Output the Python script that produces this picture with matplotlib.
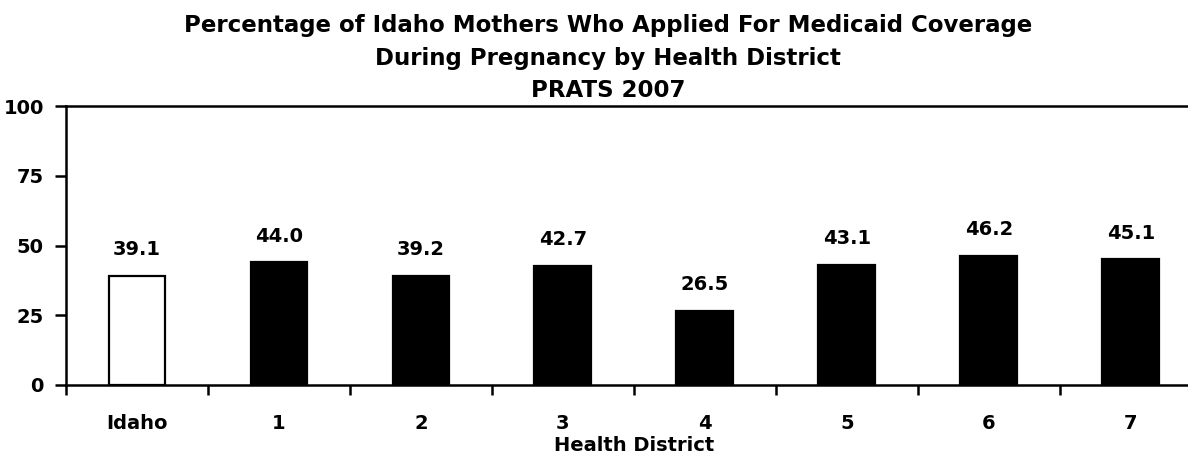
import matplotlib
matplotlib.use("Agg")
import matplotlib.pyplot as plt

# --- data ---
categories = ["Idaho", "1", "2", "3", "4", "5", "6", "7"]
percentages = [39.1, 44.0, 39.2, 42.7, 26.5, 43.1, 46.2, 45.1]
y_ticks = [0, 25, 50, 75, 100]

plt.rcParams["font.family"] = ["DejaVu Sans"]
W = "bold"
FS = 14

fig = plt.figure(figsize=(11.88, 4.58), dpi=100)
# axes runs a little past the right edge, like the original
ax = fig.add_axes([66 / 1188, 1 - 385 / 458, (1201.7 - 66) / 1188, (385 - 106) / 458])

x = list(range(len(categories)))
colors = ["white"] + ["black"] * (len(categories) - 1)
ax.bar(x, percentages, width=0.4, color=colors, edgecolor="black", linewidth=1.6)

for xi, v in zip(x, percentages):
    ax.annotate(f"{v:.1f}", (xi, v), xytext=(0, 12), textcoords="offset points",
                ha="center", va="bottom", fontsize=FS, fontweight=W)

ax.set_xlim(-0.5, len(categories) - 0.5)
ax.set_ylim(0, 100)
ax.set_yticks(y_ticks)
ax.set_yticklabels([str(t) for t in y_ticks], fontsize=FS, fontweight=W)

# category labels in the middle, ticks on the boundaries
ax.set_xticks(x)
ax.set_xticklabels(categories, fontsize=FS, fontweight=W)
ax.tick_params(axis="x", which="major", length=0, pad=21)
ax.set_xticks([i - 0.5 for i in range(len(categories) + 1)], minor=True)
ax.tick_params(axis="x", which="minor", length=7, width=1.8, direction="out")
ax.tick_params(axis="y", length=8, width=1.8, direction="out", pad=8)

for s in ["left", "bottom", "top"]:
    ax.spines[s].set_linewidth(1.8)
ax.spines["right"].set_visible(False)

ax.set_xlabel("Health District", fontsize=FS, fontweight=W, labelpad=2)

title_lines = ["Percentage of Idaho Mothers Who Applied For Medicaid Coverage",
               "During Pregnancy by Health District",
               "PRATS 2007"]
for line, base in zip(title_lines, [32, 65, 97]):
    fig.text(0.512, 1 - base / 458, line, ha="center", va="baseline",
             fontsize=16.5, fontweight=W)

fig.savefig("out.png", dpi=100)
